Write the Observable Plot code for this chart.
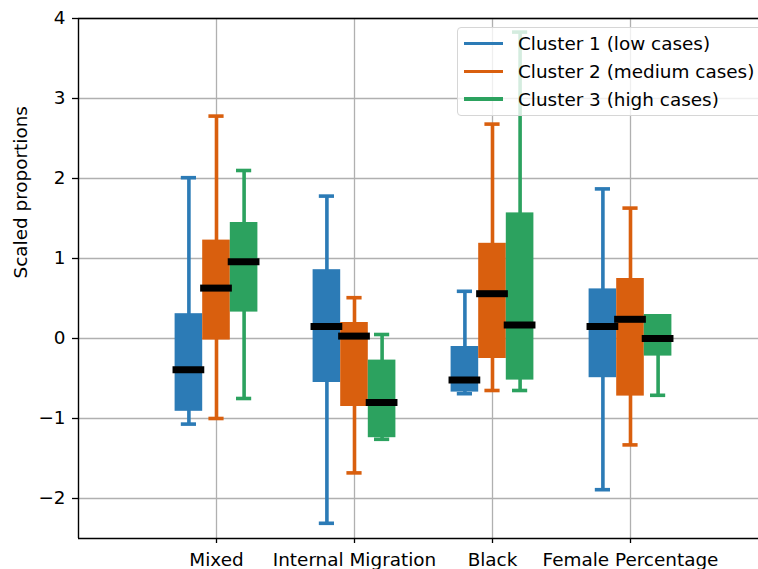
<!DOCTYPE html>
<html>
<head>
<meta charset="utf-8">
<script src="https://cdn.jsdelivr.net/npm/d3@7"></script>
<script src="https://cdn.jsdelivr.net/npm/@observablehq/plot@0.6"></script>
<style>
  html, body { margin: 0; padding: 0; background: #fff; overflow: hidden; }
  #wrap { position: relative; width: 758px; height: 569px; overflow: hidden; font-family: "DejaVu Sans", sans-serif; }
  #legend { position: absolute; left: 457px; top: 27px; width: 320px; height: 89px;
            background: rgba(255,255,255,0.8); border: 1px solid #d6d6d6; border-radius: 4px; box-sizing: border-box; }
  .row { position: absolute; left: 0; height: 24px; display: flex; align-items: center; font-size: 18.4px; color: #000; white-space: nowrap; }
  .sw { width: 39px; height: 3.5px; margin-left: 6px; margin-right: 15px; }
</style>
</head>
<body>
<div id="wrap"><div id="chart"></div><div id="legend"></div></div>
<script>
const categories = ["Mixed", "Internal Migration", "Black", "Female Percentage"];
const clusterNames = ["Cluster 1 (low cases)", "Cluster 2 (medium cases)", "Cluster 3 (high cases)"];
const colors = ["#2c7bb6", "#d95f0e", "#2ca25f"];
// per cluster, per category
const whiskerLow  = [[-1.07, -2.31, -0.69, -1.89], [-1.00, -1.68, -0.65, -1.33], [-0.75, -1.26, -0.65, -0.71]];
const q1          = [[-0.91, -0.55, -0.67, -0.49], [-0.02, -0.85, -0.25, -0.72], [ 0.33, -1.24, -0.52, -0.22]];
const median      = [[-0.39,  0.15, -0.52,  0.15], [ 0.63,  0.03,  0.56,  0.24], [ 0.96, -0.80,  0.17,  0.00]];
const q3          = [[ 0.31,  0.86, -0.10,  0.62], [ 1.23,  0.20,  1.19,  0.75], [ 1.45, -0.27,  1.57,  0.30]];
const whiskerHigh = [[ 2.01,  1.78,  0.59,  1.87], [ 2.78,  0.51,  2.68,  1.63], [ 2.10,  0.05,  3.83,  0.30]];
const yTicks = [-2, -1, 0, 1, 2, 3, 4];
const yDomain = [-2.5, 4];
const xDomain = [0, 680 / 138];

const boxW = 0.2;
const rows = [];
clusterNames.forEach((cl, ci) => {
  categories.forEach((cat, k) => {
    rows.push({
      cluster: cl, ci, cat,
      pos: k + 1 + (ci - 1) * boxW,
      lo: whiskerLow[ci][k], q1: q1[ci][k], med: median[ci][k], q3: q3[ci][k], hi: whiskerHigh[ci][k]
    });
  });
});
const xTicks = categories.map((_, i) => i + 1);
const col = d => colors[d.ci];

const chart = Plot.plot({
  width: 758, height: 569,
  marginLeft: 78, marginRight: 0, marginTop: 18, marginBottom: 31,
  style: { fontFamily: "DejaVu Sans, sans-serif", fontSize: "18.4px", color: "#000", background: "#fff" },
  x: { domain: xDomain, label: null },
  y: { domain: yDomain, label: null },
  marks: [
    Plot.gridY(yTicks, { stroke: "#b0b0b0", strokeOpacity: 1, strokeWidth: 1.3 }),
    Plot.gridX(xTicks, { stroke: "#b0b0b0", strokeOpacity: 1, strokeWidth: 1.3 }),
    Plot.axisY(yTicks, { tickSize: 6, tickPadding: 7, fontSize: 18.4, tickFormat: d3.format("d"), label: null, strokeWidth: 1.3 }),
    Plot.axisX(xTicks, { tickSize: 5, tickPadding: 9, fontSize: 18.4, tickFormat: i => categories[i - 1], label: null, strokeWidth: 1.3 }),
    Plot.ruleY([yDomain[0], yDomain[1]], { stroke: "#000", strokeWidth: 1.4 }),
    Plot.ruleX([xDomain[0]], { stroke: "#000", strokeWidth: 1.4 }),
    Plot.ruleX(rows, { x: "pos", y1: "lo", y2: "hi", stroke: col, strokeWidth: 3.6 }),
    Plot.ruleY(rows.filter(d => d.lo < d.q1), { y: "lo", x1: d => d.pos - 0.055, x2: d => d.pos + 0.055, stroke: col, strokeWidth: 3.6 }),
    Plot.ruleY(rows.filter(d => d.hi > d.q3), { y: "hi", x1: d => d.pos - 0.055, x2: d => d.pos + 0.055, stroke: col, strokeWidth: 3.6 }),
    Plot.rect(rows, { x1: d => d.pos - boxW / 2, x2: d => d.pos + boxW / 2, y1: "q1", y2: "q3", fill: col, inset: 0 }),
    Plot.ruleY(rows, { y: "med", x1: d => d.pos - 0.115, x2: d => d.pos + 0.115, stroke: "#000", strokeWidth: 7 }),
    Plot.text(["Scaled proportions"], { frameAnchor: "left", dx: -57, rotate: -90, fontSize: 18.4, fill: "#000" })
  ]
});
document.getElementById("chart").appendChild(chart);

const legend = document.getElementById("legend");
clusterNames.forEach((name, i) => {
  const r = document.createElement("div");
  r.className = "row";
  r.style.top = (3.5 + i * 27.8) + "px";
  const sw = document.createElement("span");
  sw.className = "sw";
  sw.style.background = colors[i];
  const t = document.createElement("span");
  t.textContent = name;
  r.appendChild(sw); r.appendChild(t);
  legend.appendChild(r);
});
</script>
</body>
</html>
